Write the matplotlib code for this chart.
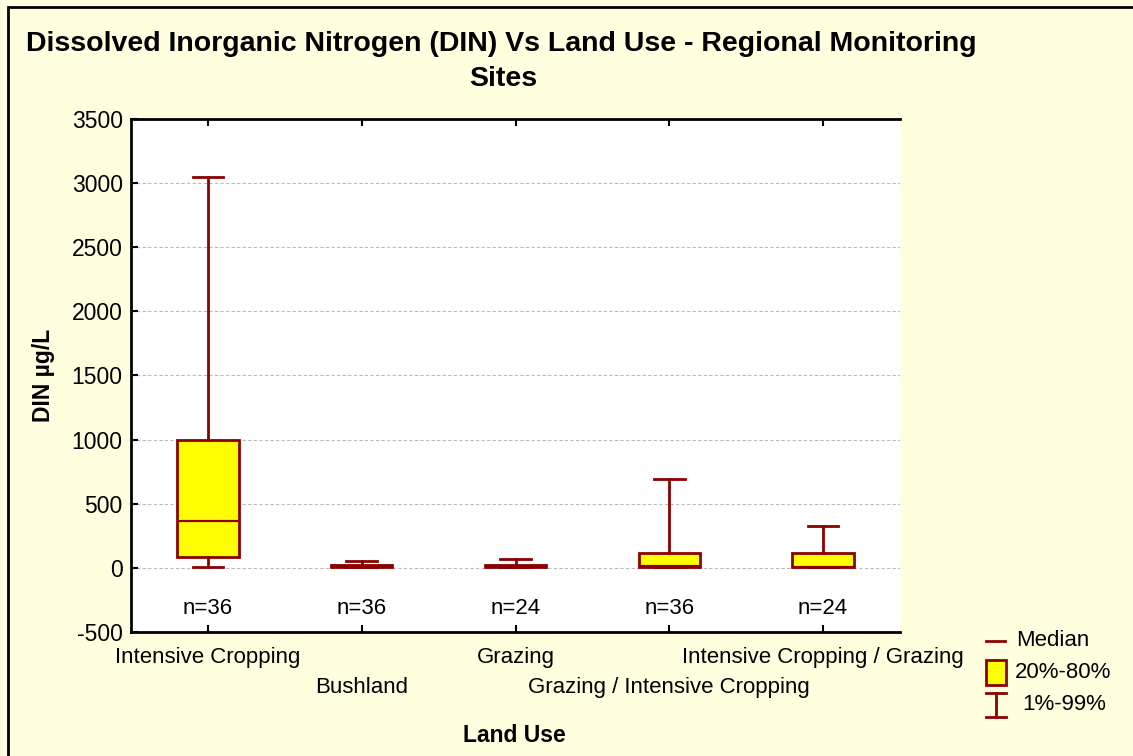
import matplotlib
matplotlib.use("Agg")
import matplotlib.pyplot as plt
from matplotlib.lines import Line2D
from matplotlib.patches import Rectangle

plt.rcParams['font.family'] = ['Liberation Sans', 'DejaVu Sans']
plt.rcParams['axes.unicode_minus'] = False

# land use categories and box statistics (DIN, ug/L)
land_use = ["Intensive Cropping", "Bushland", "Grazing",
            "Grazing / Intensive Cropping", "Intensive Cropping / Grazing"]
p01 = [8, 3, 3, 3, 3]
p20 = [86, 5, 5, 8, 5]
median = [366, 15, 15, 18, 10]
p80 = [1000, 25, 25, 117, 117]
p99 = [3050, 55, 70, 690, 330]
n_obs = [36, 36, 24, 36, 24]

DARK_RED = "#8B0000"
BG = "#FFFFE0"

fig = plt.figure(figsize=(11.33, 7.56), dpi=100, facecolor=BG)
ax = fig.add_axes([131 / 1133, 1 - 632 / 756, (900 - 131) / 1133, (632 - 119) / 756])
ax.set_facecolor("white")

stats = []
for i in range(len(land_use)):
    stats.append({"whislo": p01[i], "q1": p20[i], "med": median[i],
                  "q3": p80[i], "whishi": p99[i], "fliers": []})

pos = list(range(1, len(land_use) + 1))
ax.bxp(stats, positions=pos, widths=0.4, patch_artist=True, showfliers=False,
       boxprops=dict(facecolor="#FFFF00", edgecolor=DARK_RED, linewidth=2),
       medianprops=dict(color=DARK_RED, linewidth=1.6),
       whiskerprops=dict(color=DARK_RED, linewidth=2),
       capprops=dict(color=DARK_RED, linewidth=2), capwidths=0.2)

for p, n in zip(pos, n_obs):
    ax.text(p, -320, "n=%d" % n, ha="center", va="center", fontsize=16)

ax.set_xlim(0.5, 5.5)
ax.set_ylim(-500, 3500)
ax.set_yticks(range(-500, 3501, 500))
ax.yaxis.grid(True, linestyle=(0, (3, 2)), color="#BBBBBB", linewidth=0.8)
ax.set_axisbelow(True)
ax.tick_params(axis="y", labelsize=16.5, direction="in", length=5, width=1.5, pad=6)
ax.tick_params(axis="x", direction="in", length=5, width=1.5, top=True)
ax.set_xticks(pos)
ax.set_xticklabels([])

# staggered category labels: two rows
for k, (p, lab) in enumerate(zip(pos, land_use)):
    off = -18 if k % 2 == 0 else -40
    ax.annotate(lab, xy=(p, 0), xycoords=("data", "axes fraction"),
                xytext=(0, off), textcoords="offset points",
                ha="center", va="center", fontsize=16)

for s in ["left", "bottom", "top"]:
    ax.spines[s].set_linewidth(2)
ax.spines["right"].set_visible(False)

fig.text(514 / 1133, 1 - 735 / 756, "Land Use", ha="center", va="center",
         fontsize=16.5, fontweight="bold")
ax.set_ylabel("DIN µg/L", fontsize=16.5, fontweight="bold", labelpad=12)

fig.text(501 / 1133, 1 - 44 / 756, "Dissolved Inorganic Nitrogen (DIN) Vs Land Use - Regional Monitoring",
         ha="center", va="center", fontsize=20.5, fontweight="bold")
fig.text(503 / 1133, 1 - 79 / 756, "Sites", ha="center", va="center", fontsize=20.5, fontweight="bold")

# legend, drawn by hand
W, H = 1133.0, 756.0
def fx(x):
    return x / W
def fy(y):
    return 1 - y / H
fig.add_artist(Line2D([fx(986), fx(1005)], [fy(641), fy(641)], color=DARK_RED, lw=2))
fig.add_artist(Rectangle((fx(986), fy(685)), 20 / W, 25 / H, facecolor="#FFFF00",
                         edgecolor=DARK_RED, lw=2))
fig.add_artist(Line2D([fx(986), fx(1006)], [fy(693), fy(693)], color=DARK_RED, lw=2))
fig.add_artist(Line2D([fx(986), fx(1006)], [fy(717), fy(717)], color=DARK_RED, lw=2))
fig.add_artist(Line2D([fx(996), fx(996)], [fy(693), fy(717)], color=DARK_RED, lw=2))
fig.text(fx(1016), fy(641), "Median", ha="left", va="center", fontsize=16)
fig.text(fx(1015), fy(672), "20%-80%", ha="left", va="center", fontsize=16)
fig.text(fx(1022), fy(705), "1%-99%", ha="left", va="center", fontsize=16)

# outer frame
fig.add_artist(Rectangle((fx(8), fy(800)), 1200 / W, 793 / H, fill=False,
                         edgecolor="black", lw=2))

fig.savefig("out.png", dpi=100, facecolor=BG)
